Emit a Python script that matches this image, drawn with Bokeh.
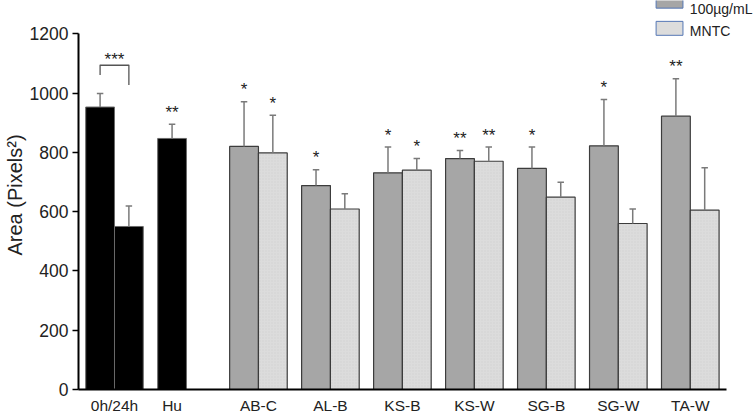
from bokeh.plotting import figure
from bokeh.models import Range1d, FixedTicker
from bokeh.core.properties import value
from bokeh.embed import file_html
from bokeh.resources import INLINE

# ---------------- data ----------------
control_names = ["0h", "24h", "Hu"]
control_means = [953, 550, 847]
control_sd = [46, 69, 48]
hu_sig = "**"
pair_sig = "***"

groups = ["AB-C", "AL-B", "KS-B", "KS-W", "SG-B", "SG-W", "TA-W"]
mean_100 = [820, 688, 731, 779, 746, 822, 922]
sd_100 = [151, 53, 87, 27, 72, 156, 126]
sig_100 = ["*", "*", "*", "**", "*", "*", "**"]
mean_mntc = [798, 609, 740, 770, 649, 560, 605]
sd_mntc = [127, 51, 39, 48, 50, 49, 143]
sig_mntc = ["*", "", "*", "**", "", "", ""]

tick_labels = ["0h/24h", "Hu"] + groups
series_names = ["100µg/mL", "MNTC"]
y_ticks = [0, 200, 400, 600, 800, 1000, 1200]
y_title = "Area (Pixels²)"

# ---------------- layout (x in tenths of a group slot) ----------------
ctrl_x = [3, 7, 13]
tick_x = [5, 13] + [25 + 10 * i for i in range(len(groups))]
grp_x = tick_x[2:]
x_dark = [g - 2 for g in grp_x]
x_light = [g + 2 for g in grp_x]
BW = 4
CAP = 0.45

FONT = "Liberation Sans"
DARK = "#a6a6a6"
LIGHT = "#dcdcdc"
EDGE = "#3c3c3c"
ERR = "#7a7a7a"

p = figure(width=754, height=416, output_backend="svg", toolbar_location=None,
           x_range=Range1d(0, 93.92), y_range=Range1d(0, 1312.4),
           min_border_left=74, min_border_right=0, min_border_top=0, min_border_bottom=25)
p.outline_line_color = None
p.xgrid.visible = False
p.ygrid.visible = False
p.background_fill_color = "white"
p.border_fill_color = "white"

# y axis
ya = p.yaxis[0]
ya.ticker = FixedTicker(ticks=y_ticks)
ya.bounds = (0, 1200)
ya.axis_line_width = 2
ya.axis_line_color = "black"
ya.major_tick_out = 6
ya.major_tick_in = 0
ya.major_tick_line_width = 1.5
ya.minor_tick_out = 0
ya.minor_tick_in = 0
ya.major_label_text_font = FONT
ya.major_label_text_font_size = "17.5px"
ya.major_label_text_color = "#222222"
ya.major_label_standoff = 4
ya.axis_label = y_title
ya.axis_label_text_font = FONT
ya.axis_label_text_font_size = "20px"
ya.axis_label_text_font_style = "normal"
ya.axis_label_text_color = "#222222"
ya.axis_label_standoff = 1

# x axis
xa = p.xaxis[0]
xa.ticker = FixedTicker(ticks=tick_x)
xa.major_label_overrides = {t: lab for t, lab in zip(tick_x, tick_labels)}
xa.bounds = (0, 90)
xa.axis_line_width = 2
xa.axis_line_color = "black"
xa.major_tick_out = 0
xa.major_tick_in = 0
xa.minor_tick_out = 0
xa.minor_tick_in = 0
xa.major_label_text_font = FONT
xa.major_label_text_font_size = "15.5px"
xa.major_label_text_color = "#222222"
xa.major_label_standoff = 7

# control (black) bars
p.vbar(x=ctrl_x, top=control_means, bottom=0, width=BW, fill_color="black",
       line_color="#6a6a6a", line_width=1)
ctrl_top = [m + s for m, s in zip(control_means, control_sd)]
p.segment(x0=ctrl_x, y0=control_means, x1=ctrl_x, y1=ctrl_top, line_color=ERR, line_width=1.5)
p.segment(x0=[x - CAP for x in ctrl_x], y0=ctrl_top, x1=[x + CAP for x in ctrl_x], y1=ctrl_top,
          line_color=ERR, line_width=1.5)

# treatment bars
top_100 = [m + s for m, s in zip(mean_100, sd_100)]
top_mntc = [m + s for m, s in zip(mean_mntc, sd_mntc)]
p.vbar(x=x_dark, top=mean_100, bottom=0, width=BW, fill_color=DARK, line_color=EDGE, line_width=1.2)
p.vbar(x=x_light, top=mean_mntc, bottom=0, width=BW, fill_color=LIGHT, line_color=EDGE, line_width=1.2,
       hatch_pattern="dot", hatch_color="#cbcbcb", hatch_scale=3, hatch_weight=1, hatch_alpha=0.6)
for xs, ms, ts in ((x_dark, mean_100, top_100), (x_light, mean_mntc, top_mntc)):
    p.segment(x0=xs, y0=ms, x1=xs, y1=ts, line_color=ERR, line_width=1.5)
    p.segment(x0=[x - CAP for x in xs], y0=ts, x1=[x + CAP for x in xs], y1=ts,
              line_color=ERR, line_width=1.5)

# significance marks
star_kw = dict(text_align="center", text_baseline="middle", text_font=value(FONT),
               text_font_size="17px", text_color="#222222", y_offset=-12)
p.text(x=x_dark, y=top_100, text=sig_100, **star_kw)
p.text(x=x_light, y=top_mntc, text=sig_mntc, **star_kw)
p.text(x=[ctrl_x[2]], y=[ctrl_top[2]], text=[hu_sig], **star_kw)

# bracket between 0h and 24h
br_top = ctrl_top[0] + 95
p.line(x=[ctrl_x[0], ctrl_x[0], ctrl_x[1], ctrl_x[1]],
       y=[ctrl_top[0] + 62, br_top, br_top, br_top - 67],
       line_color="#555555", line_width=1.3, line_join="round")
p.text(x=[(ctrl_x[0] + ctrl_x[1]) / 2], y=[br_top], text=[pair_sig],
       text_align="center", text_baseline="middle", text_font=value(FONT),
       text_font_size="17px", text_color="#222222", y_offset=-6)

# legend (drawn at top right, partly cut by the top edge as in the source)
p.quad(left=[80.25, 80.25], right=[83.98, 83.98], bottom=[1286.6, 1195.0], top=[1336.0, 1242.0],
       fill_color=[DARK, LIGHT], line_color="#5577b5", line_width=1)
p.text(x=[84.94, 84.94], y=[1283.0, 1208.4], text=series_names, text_align="left",
       text_baseline="middle", text_font=value(FONT), text_font_size="14px", text_color="#222222")

open("out.html", "w").write(file_html(p, INLINE))
